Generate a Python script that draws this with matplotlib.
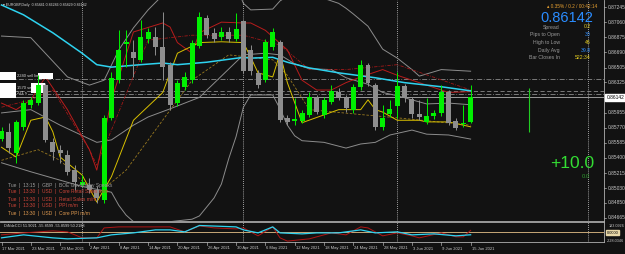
#!/usr/bin/env python3

import matplotlib.pyplot as plt
from matplotlib.patches import Rectangle

plt.rcParams['font.family'] = ['Liberation Sans', 'DejaVu Sans']

# ---- data (EURGBP daily, 17 Mar 2021 .. 15 Jun 2021) ----
date_labels = ['17 Mar 2021', '23 Mar 2021', '29 Mar 2021', '2 Apr 2021', '8 Apr 2021',
               '14 Apr 2021', '20 Apr 2021', '26 Apr 2021', '30 Apr 2021', '6 May 2021',
               '12 May 2021', '18 May 2021', '24 May 2021', '28 May 2021', '3 Jun 2021',
               '9 Jun 2021', '15 Jun 2021']

opens = [0.8563, 0.8572, 0.8546, 0.8578, 0.8605, 0.8607, 0.8629, 0.8559, 0.8550, 0.8544,
         0.8525, 0.8507, 0.8507, 0.8501, 0.8489, 0.8589, 0.8635, 0.8679, 0.8670, 0.8660,
         0.8685, 0.8688, 0.8676, 0.8654, 0.8607, 0.8627, 0.8635, 0.8677, 0.8711, 0.8693,
         0.8688, 0.8694, 0.8685, 0.8707, 0.8672, 0.8644, 0.8635, 0.8676, 0.8682, 0.8589,
         0.8585, 0.8585, 0.8593, 0.8613, 0.8593, 0.8608, 0.8620, 0.8613, 0.8599, 0.8627,
         0.8654, 0.8629, 0.8578, 0.8594, 0.8603, 0.8628, 0.8612, 0.8594, 0.8584, 0.8591,
         0.8595, 0.8621, 0.8585, 0.8582, 0.85841]
highs = [0.8578, 0.8583, 0.8586, 0.8611, 0.8614, 0.8641, 0.8632, 0.8564, 0.8556, 0.8550,
         0.8531, 0.8519, 0.8516, 0.8505, 0.8593, 0.8645, 0.8696, 0.8696, 0.8684, 0.8709,
         0.8699, 0.8700, 0.8718, 0.8657, 0.8635, 0.8645, 0.8684, 0.8718, 0.8715, 0.8699,
         0.8700, 0.8700, 0.8717, 0.8709, 0.8678, 0.8648, 0.8686, 0.8699, 0.8684, 0.8593,
         0.8613, 0.8599, 0.8620, 0.8617, 0.8614, 0.8629, 0.8626, 0.8617, 0.8630, 0.8660,
         0.8656, 0.8632, 0.8605, 0.8611, 0.8645, 0.8630, 0.8614, 0.8611, 0.8613, 0.8599,
         0.8629, 0.8623, 0.8589, 0.8605, 0.86286]
lows = [0.8561, 0.8546, 0.8534, 0.8574, 0.8601, 0.8605, 0.8559, 0.8537, 0.8534, 0.8519,
        0.8501, 0.8505, 0.8497, 0.8485, 0.8485, 0.8586, 0.8632, 0.8651, 0.8639, 0.8657,
        0.8681, 0.8666, 0.8635, 0.8599, 0.8603, 0.8623, 0.8632, 0.8674, 0.8687, 0.8682,
        0.8684, 0.8682, 0.8683, 0.8644, 0.8641, 0.8626, 0.8633, 0.8672, 0.8584, 0.8580,
        0.8580, 0.8583, 0.8590, 0.8594, 0.8589, 0.8606, 0.8611, 0.8596, 0.8595, 0.8623,
        0.8628, 0.8574, 0.8574, 0.8590, 0.8589, 0.8608, 0.8589, 0.8586, 0.8581, 0.8588,
        0.8591, 0.8580, 0.8574, 0.8578, 0.85829]
closes = [0.8573, 0.8552, 0.8584, 0.8607, 0.8611, 0.8629, 0.8562, 0.8547, 0.8546, 0.8523,
          0.8510, 0.8511, 0.8501, 0.8491, 0.8589, 0.8638, 0.8672, 0.8682, 0.8662, 0.8688,
          0.8694, 0.8676, 0.8651, 0.8605, 0.8632, 0.8639, 0.8681, 0.8712, 0.8690, 0.8685,
          0.8694, 0.8685, 0.8698, 0.8646, 0.8646, 0.8629, 0.8682, 0.8694, 0.8586, 0.8584,
          0.8588, 0.8595, 0.8614, 0.8596, 0.8611, 0.8622, 0.8614, 0.8601, 0.8627, 0.8654,
          0.8632, 0.8578, 0.8589, 0.8600, 0.8628, 0.8613, 0.8594, 0.8590, 0.8591, 0.8595,
          0.8621, 0.8583, 0.8577, 0.8583, 0.86142]

# moving average (cyan)
ma_idx = [0, 3, 7, 11, 13, 15, 19, 22, 24, 28, 33, 34, 37, 39, 42, 46, 51, 55, 60, 64]
ma_val = [0.8727, 0.8715, 0.8693, 0.8668, 0.8654, 0.8651, 0.8654, 0.8656, 0.8654, 0.8657,
          0.8663, 0.8662, 0.8663, 0.8657, 0.8650, 0.8644, 0.8638, 0.8632, 0.8627, 0.8622]

# bollinger bands (gray)
bb_up_idx = [0, 4, 9, 12, 14, 16, 18, 20, 22, 26, 30, 32, 33, 34, 37, 38, 40, 44, 46, 47,
             48, 50, 52, 54, 56, 57, 60, 64]
bb_up_val = [0.8689, 0.8687, 0.8639, 0.8629, 0.8635, 0.8672, 0.8699, 0.8721, 0.8739, 0.8749,
             0.8771, 0.8751, 0.8729, 0.8721, 0.8722, 0.8732, 0.8743, 0.8735, 0.8729, 0.8723,
             0.8716, 0.8701, 0.8673, 0.8662, 0.8648, 0.8640, 0.8648, 0.8646]
bb_mid_idx = [0, 4, 8, 13, 15, 18, 20, 23, 27, 30, 33, 36, 38, 40, 42, 45, 47, 50, 52, 54,
              56, 58, 61, 64]
bb_mid_val = [0.8595, 0.8599, 0.8580, 0.8559, 0.8562, 0.8580, 0.8590, 0.8600, 0.8614, 0.8640,
              0.8666, 0.8668, 0.8666, 0.8655, 0.8649, 0.8648, 0.8638, 0.8630, 0.8620, 0.8616,
              0.8611, 0.8606, 0.8607, 0.8605]
bb_lo_idx = [0, 4, 11, 15, 16, 17, 18, 20, 26, 27, 28, 29, 30, 31, 32, 33, 34, 37, 38, 39,
             40, 41, 44, 47, 49, 51, 53, 55, 56, 58, 61, 64]
bb_lo_val = [0.8534, 0.8523, 0.8505, 0.8498, 0.8482, 0.8470, 0.8462, 0.8459, 0.8465, 0.8469,
             0.8480, 0.8491, 0.8508, 0.8539, 0.8566, 0.8602, 0.8617, 0.8617, 0.8600, 0.8580,
             0.8567, 0.8561, 0.8559, 0.8552, 0.8557, 0.8559, 0.8568, 0.8572, 0.8574, 0.8569,
             0.8568, 0.8563]

# red averages
red_idx = [0, 2, 4, 6, 9, 12, 13, 15, 18, 22, 23, 24, 26, 27, 30, 33, 34, 36, 39, 41, 43,
           45, 47, 49, 52, 54, 61, 64]
red_val = [0.8607, 0.8599, 0.8611, 0.8639, 0.8599, 0.8550, 0.8525, 0.8611, 0.8694, 0.8705,
           0.8700, 0.8681, 0.8668, 0.8693, 0.8706, 0.8705, 0.8705, 0.8696, 0.8672, 0.8635,
           0.8623, 0.8623, 0.8632, 0.8639, 0.8648, 0.8641, 0.8620, 0.8621]
red2_idx = [0, 4, 7, 12, 13, 15, 20, 26, 33, 38, 42, 47, 54, 64]
red2_val = [0.8602, 0.8611, 0.8623, 0.8550, 0.8531, 0.8574, 0.8684, 0.8690, 0.8690, 0.8678,
            0.8648, 0.8648, 0.8654, 0.8623]

# yellow averages
yel_idx = [0, 2, 4, 6, 7, 8, 11, 13, 15, 18, 22, 24, 27, 30, 33, 34, 35, 37, 38, 39, 41,
           46, 49, 50, 51, 52, 54, 57, 58, 61, 64]
yel_val = [0.8553, 0.8541, 0.8586, 0.8590, 0.8572, 0.8541, 0.8519, 0.8486, 0.8517, 0.8586,
           0.8620, 0.8668, 0.8681, 0.8682, 0.8681, 0.8663, 0.8644, 0.8639, 0.8668, 0.8632,
           0.8583, 0.8599, 0.8599, 0.8611, 0.8599, 0.8596, 0.8586, 0.8586, 0.8584, 0.8584,
           0.8578]
yel2_idx = [0, 5, 8, 13, 17, 21, 26, 31, 37, 39, 42, 49, 54, 64]
yel2_val = [0.8537, 0.8550, 0.8537, 0.8495, 0.8525, 0.8574, 0.8635, 0.8666, 0.8660, 0.8641,
            0.8599, 0.8593, 0.8589, 0.8580]

# CCI sub-window
cci_r_idx = [0, 3, 7, 9, 11, 13, 14, 16, 20, 23, 25, 27, 29, 32, 33, 35, 37, 38, 39, 42,
             44, 45, 47, 49, 50, 52, 54, 56, 57, 60, 62, 63, 64]
cci_r_val = [-58, -10, 39, 15, -131, -131, 111, 136, 136, 136, 15, 160, 111, 87, 111, -82,
             136, -131, -210, -155, -58, -10, -58, 136, 111, -82, -10, -82, -131, -10, -106,
             -106, 52]
cci_c_idx = [0, 3, 7, 9, 13, 15, 18, 21, 23, 25, 27, 32, 33, 35, 37, 38, 41, 43, 46, 49,
             51, 54, 56, 59, 62, 64]
cci_c_val = [-131, -58, -131, -155, -131, -58, -10, 63, 63, 15, 170, 136, 63, -10, 136, -10,
             -34, -10, -10, 63, -10, 15, -58, -34, -82, -56]

price_ticks = [0.87245, 0.87060, 0.86875, 0.86690, 0.86505, 0.86325, 0.85955, 0.85770,
               0.85585, 0.85400, 0.85215, 0.85030, 0.84850, 0.84665]
bid = 0.86142

news = ['Tue  |  13:15  |  GBP  |  BOE Gov Bailey Speaks',
        'Tue  |  13:30  |  USD  |  Core Retail Sales m/m',
        'Tue  |  13:30  |  USD  |  Retail Sales m/m',
        'Tue  |  13:30  |  USD  |  PPI m/m',
        'Tue  |  13:30  |  USD  |  Core PPI m/m']
news_colors = ['#9a9a9a', '#cc4438', '#cc4438', '#cc4438', '#e09a50']


def main():
    W, H = 625, 254
    bg = '#121212'
    fig = plt.figure(figsize=(W / 100, H / 100), dpi=100, facecolor=bg)

    def fx(px):
        return px / W

    def fy(py):
        return 1 - py / H

    # x: bar i centred at pixel 1.5 + 7.33 i
    xl = (-1.5 / 7.33, (604 - 1.5) / 7.33)
    ytop, ybot = 0.87331, 0.84628

    def bx(px):
        return (px - 1.5) / 7.33

    def by(py):
        return ytop - (ytop - ybot) * py / 221

    ax = fig.add_axes([0, fy(221), fx(604), 221 / H], facecolor=bg)
    ax.set_xlim(xl)
    ax.set_ylim(ybot, ytop)
    for s in ax.spines.values():
        s.set_visible(False)
    for side in ['right', 'bottom']:
        ax.spines[side].set_visible(True)
        ax.spines[side].set_color('#b0b0b0')
        ax.spines[side].set_linewidth(0.6)
    ax.set_xticks([])
    ax.set_yticks([])

    # month separators
    for i in [11, 33, 54, 80]:
        ax.axvline(i, color='#d0d0d0', lw=0.6, ls=(0, (1, 1.5)))

    # order / price lines
    ax.axhline(0.8636, color='#8a8a8a', lw=0.6, ls=(0, (6, 2, 1, 2)))
    ax.axhline(0.8622, color='#8a8a8a', lw=0.6, ls=(0, (5, 3)))
    ax.axhline(0.8618, color='#8a8a8a', lw=0.6, ls=(0, (6, 2, 1, 2)))
    ax.axhline(bid, color='#9a9a9a', lw=0.7)

    # order tags on the left (white boxes)
    for (x0, y0, x1, y1) in [(0, 72, 16, 80), (38, 73, 53, 79), (0, 83, 16, 98),
                             (31, 83, 45, 93)]:
        ax.add_patch(Rectangle((bx(x0), by(y1)), bx(x1) - bx(x0), by(y0) - by(y1),
                               fc='white', ec='none', zorder=2.5))
    ax.text(bx(17), by(76), '2240 sell lim', fontsize=3.0, color='#d8d8d8', va='center',
            zorder=2.6)
    ax.text(bx(17), by(88), '1570 se', fontsize=3.0, color='#d8d8d8', va='center', zorder=2.6)
    ax.text(bx(17), by(93), '221 s', fontsize=3.0, color='#d8d8d8', va='center', zorder=2.6)

    # indicators
    ax.plot(bb_up_idx, bb_up_val, color='#8c8c8c', lw=0.7)
    ax.plot(bb_mid_idx, bb_mid_val, color='#8c8c8c', lw=0.7)
    ax.plot(bb_lo_idx, bb_lo_val, color='#8c8c8c', lw=0.7)
    ax.plot(red2_idx, red2_val, color='#a01818', lw=0.6, ls=(0, (4, 1.5, 1, 1.5)))
    ax.plot(yel2_idx, yel2_val, color='#9a7a20', lw=0.6, ls=(0, (3, 2)))
    ax.plot(red_idx, red_val, color='#b81c1c', lw=0.7)
    ax.plot(yel_idx, yel_val, color='#d8c000', lw=0.7)
    ax.plot(ma_idx, ma_val, color='#2ed3f0', lw=1.1)

    # candles
    for i, (o, h, l, c) in enumerate(zip(opens, highs, lows, closes)):
        col = '#00f000' if c >= o else '#8e8e8e'
        ax.vlines(i, l, h, color=col, lw=0.7, zorder=3)
        lo = min(o, c)
        hgt = max(abs(c - o), 0.00003)
        ax.bar(i, hgt, bottom=lo, width=0.68, color=col, zorder=4)

    # stray marker line
    ax.vlines(72, 0.8572, 0.8626, color='#22cc22', lw=0.8)

    # right price axis
    tr = ax.get_yaxis_transform()
    for p in price_ticks:
        ax.plot([1.0, 1.004], [p, p], color='#b0b0b0', lw=0.5, transform=tr, clip_on=False)
        ax.text(1.006, p, '%.5f' % p, transform=tr, fontsize=3.5, color='#c8c8c8',
                va='center', ha='left', clip_on=False)
    ax.text(1.004, bid, '%.5f' % bid, transform=tr, fontsize=3.5, color='black',
            va='center', ha='left', clip_on=False,
            bbox=dict(boxstyle='square,pad=0.2', fc='white', ec='white'))

    # header
    fig.text(fx(3), fy(5), '\u25be EURGBP,Daily  0.85841 0.86286 0.85829 0.86142',
             fontsize=2.6, color='#d8d8d8', va='center', ha='left')

    # info panel
    fig.text(fx(597), fy(7), '\u25b4 0.35% / 0.2 / 00:42:14', fontsize=3.4,
             color='#e8a030', va='center', ha='right')
    fig.text(fx(593), fy(18), '0.86142', fontsize=10.5, color='#2a8cff',
             va='center', ha='right')
    rows = [('Spread', '0.2', '#e8d020'), ('Pips to Open', '30', '#2a8cff'),
            ('High to Low', '46', '#e8d020'), ('Daily Avg', '39.8', '#2a8cff'),
            ('Bar Closes In', '522:34', '#e8d020')]
    for k, (lab, val, col) in enumerate(rows):
        yy = 27 + k * 7.7
        fig.text(fx(560), fy(yy), lab, fontsize=3.7, color='#9a9a9a', va='center', ha='right')
        fig.text(fx(591), fy(yy), val, fontsize=3.7, color=col, va='center', ha='right')

    fig.text(fx(594), fy(164), '+10.0', fontsize=12.5, color='#33dd33', va='center', ha='right')
    fig.text(fx(590), fy(177), '0.0', fontsize=4.2, color='#2e9a2e', va='center', ha='right')

    # news lines
    for k, (t, col) in enumerate(zip(news, news_colors)):
        fig.text(fx(8), fy(185 + k * 7), t, fontsize=3.5, color=col, va='center', ha='left')

    # CCI sub window
    ax2 = fig.add_axes([0, fy(242), fx(604), 20 / H], facecolor=bg)
    ax2.set_xlim(xl)
    ax2.set_ylim(-232, 255)
    for s in ax2.spines.values():
        s.set_color('#b0b0b0')
        s.set_linewidth(0.6)
    ax2.spines['left'].set_visible(False)
    ax2.set_xticks([])
    ax2.set_yticks([])
    for i in [11, 33, 54, 80]:
        ax2.axvline(i, color='#d0d0d0', lw=0.6, ls=(0, (1, 1.5)))
    ax2.axhline(0, color='#c8a878', lw=0.7)
    ax2.plot(cci_r_idx, cci_r_val, color='#b01515', lw=0.7)
    ax2.plot(cci_c_idx, cci_c_val, color='#2ed3f0', lw=0.9)
    ax2.text(0.3, 215, 'DiNdeCCI 51.9021 -55.8599 -55.8599 50.2188', fontsize=2.8,
             color='#d8d8d8', va='top', ha='left')
    for v, s, py in [(183.0926, '183.0926', 226), (-228.0346, '-228.0346', 240.5)]:
        fig.text(fx(624), fy(py), s, fontsize=2.7, color='#c8c8c8', va='center', ha='right')
    fig.text(fx(606.5), fy(232.5), '0.0000', fontsize=2.9, color='black', va='center',
             ha='left', bbox=dict(boxstyle='square,pad=0.15', fc='#e8d8a8', ec='#e8d8a8'))

    # date axis
    for k, lab in enumerate(date_labels):
        i = k * 4
        ax2.plot([i, i], [-232, -300], color='#b0b0b0', lw=0.5, clip_on=False)
        fig.text(fx(1.5 + 7.33 * i + 1), fy(248.5), lab, fontsize=3.0, color='#c8c8c8',
                 va='center', ha='left')

    plt.savefig('out.png', dpi=100, facecolor=bg)


if __name__ == '__main__':
    main()
